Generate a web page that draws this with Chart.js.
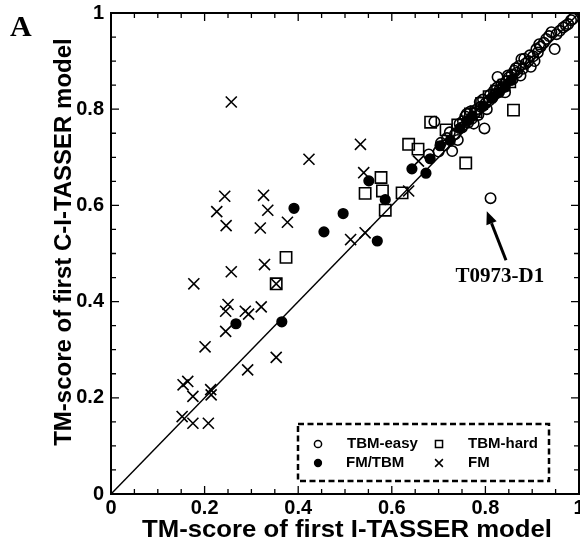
<!DOCTYPE html>
<html>
<head>
<meta charset="utf-8">
<title>TM-score comparison</title>
<script src="https://cdn.jsdelivr.net/npm/chart.js@4.4.0/dist/chart.umd.min.js"></script>
<style>
    html, body { margin: 0; padding: 0; background: #ffffff; }
    #wrap { width: 580px; height: 554px; }
</style>
</head>
<body>
<div id="wrap"><canvas id="scoreChart" width="580" height="554"></canvas></div>
<script>
// TM-scores: first I-TASSER model (x) vs first C-I-TASSER model (y)
const tbmEasyX = [0.811, 0.679, 0.691, 0.700, 0.712, 0.729, 0.735, 0.741, 0.750, 0.757,
                  0.763, 0.771, 0.778, 0.785, 0.790, 0.798, 0.800, 0.808, 0.815, 0.822,
                  0.826, 0.830, 0.838, 0.845, 0.850, 0.856, 0.862, 0.868, 0.872, 0.877,
                  0.880, 0.886, 0.892, 0.897, 0.902, 0.909, 0.912, 0.918, 0.925, 0.930,
                  0.936, 0.941, 0.948, 0.952, 0.959, 0.966, 0.972, 0.977, 0.983, 0.987,
                  0.705, 0.718, 0.724, 0.745, 0.752, 0.760, 0.768, 0.775, 0.782, 0.788,
                  0.795, 0.803, 0.810, 0.818, 0.825, 0.834, 0.842, 0.848, 0.858, 0.865,
                  0.875, 0.883, 0.895, 0.905, 0.915];
const tbmEasyY = [0.615, 0.706, 0.774, 0.712, 0.725, 0.713, 0.748, 0.736, 0.762, 0.785,
                  0.772, 0.780, 0.792, 0.788, 0.805, 0.760, 0.812, 0.818, 0.824, 0.832,
                  0.867, 0.840, 0.846, 0.858, 0.866, 0.872, 0.880, 0.876, 0.890, 0.904,
                  0.884, 0.895, 0.900, 0.888, 0.910, 0.925, 0.918, 0.930, 0.938, 0.946,
                  0.952, 0.960, 0.925, 0.956, 0.963, 0.970, 0.974, 0.977, 0.985, 0.988,
                  0.730, 0.740, 0.752, 0.770, 0.775, 0.790, 0.795, 0.770, 0.800, 0.815,
                  0.820, 0.800, 0.830, 0.838, 0.845, 0.852, 0.835, 0.870, 0.862, 0.885,
                  0.870, 0.905, 0.912, 0.900, 0.935];

const tbmHardX = [0.353, 0.374, 0.543, 0.577, 0.580, 0.586, 0.622, 0.636, 0.656, 0.683,
                  0.716, 0.741, 0.758, 0.780, 0.808, 0.852, 0.860, 0.768, 0.792, 0.824,
                  0.840];
const tbmHardY = [0.437, 0.492, 0.625, 0.658, 0.630, 0.590, 0.626, 0.727, 0.717, 0.773,
                  0.757, 0.767, 0.688, 0.795, 0.826, 0.857, 0.798, 0.790, 0.812, 0.838,
                  0.850];

const fmTbmX = [0.267, 0.365, 0.391, 0.455, 0.496, 0.551, 0.569, 0.586, 0.643, 0.673,
                0.682, 0.703, 0.745, 0.772, 0.795, 0.842, 0.760, 0.815, 0.830, 0.855,
                0.725];
const fmTbmY = [0.354, 0.358, 0.594, 0.545, 0.583, 0.651, 0.526, 0.612, 0.676, 0.667,
                0.697, 0.724, 0.760, 0.786, 0.806, 0.846, 0.775, 0.825, 0.835, 0.860,
                0.735];

const fmX = [0.257, 0.243, 0.226, 0.246, 0.326, 0.335, 0.319, 0.377, 0.423, 0.533,
             0.540, 0.177, 0.257, 0.328, 0.353, 0.250, 0.245, 0.287, 0.294, 0.321,
             0.245, 0.201, 0.353, 0.292, 0.154, 0.164, 0.175, 0.213, 0.214, 0.152,
             0.175, 0.208, 0.512, 0.543, 0.636, 0.657];
const fmY = [0.815, 0.619, 0.587, 0.558, 0.621, 0.590, 0.553, 0.565, 0.696, 0.727,
             0.668, 0.437, 0.462, 0.477, 0.437, 0.394, 0.380, 0.380, 0.374, 0.389,
             0.338, 0.306, 0.284, 0.258, 0.227, 0.234, 0.203, 0.217, 0.206, 0.161,
             0.147, 0.147, 0.529, 0.543, 0.630, 0.692];

const seriesNames = ['TBM-easy', 'TBM-hard', 'FM/TBM', 'FM'];
const axisTicks = [0, 0.2, 0.4, 0.6, 0.8, 1];
const diagonal = [0, 1];

// highlighted target and its arrow (data units)
const calloutText = 'T0973-D1';
const calloutAt = [0.831, 0.453];
const arrowFrom = [0.844, 0.486];
const arrowTo = [0.803, 0.588];

const SANS = "'Liberation Sans', Arial, sans-serif";
const SERIF = "'Liberation Serif', 'Times New Roman', serif";

function toPoints(xs, ys) {
    return xs.map((x, i) => ({ x: x, y: ys[i] }));
}

// marker look for each group, reused by the legend box
const markerStyles = [
    { pointStyle: 'circle', radius: 5.2, fill: 'rgba(0,0,0,0)', legendRadius: 3.6 },
    { pointStyle: 'rect', radius: 8, fill: 'rgba(0,0,0,0)', legendRadius: 5 },
    { pointStyle: 'circle', radius: 4.8, fill: '#000000', legendRadius: 3.4 },
    { pointStyle: 'crossRot', radius: 7.8, fill: 'rgba(0,0,0,0)', legendRadius: 5.5 }
];

const seriesData = [
    toPoints(tbmEasyX, tbmEasyY),
    toPoints(tbmHardX, tbmHardY),
    toPoints(fmTbmX, fmTbmY),
    toPoints(fmX, fmY)
];

const datasets = seriesNames.map((name, i) => ({
    label: name,
    data: seriesData[i],
    pointStyle: markerStyles[i].pointStyle,
    pointRadius: markerStyles[i].radius,
    pointBackgroundColor: markerStyles[i].fill,
    pointBorderColor: '#000000',
    pointBorderWidth: 1.6,
    showLine: false,
    clip: false
}));

// y = x reference line
datasets.push({
    label: 'diagonal',
    data: diagonal.map(v => ({ x: v, y: v })),
    showLine: true,
    borderColor: '#000000',
    borderWidth: 1.5,
    pointRadius: 0,
    order: 10
});

function drawMarker(ctx, style, x, y, radius) {
    ctx.save();
    ctx.strokeStyle = '#000000';
    ctx.fillStyle = style.fill;
    ctx.lineWidth = 1.5;
    if (Chart.helpers && Chart.helpers.drawPoint) {
        Chart.helpers.drawPoint(ctx, { pointStyle: style.pointStyle, radius: radius, rotation: 0, borderWidth: 1.5 }, x, y);
    }
    ctx.restore();
}

// text squeezed or widened to a given length
function fillTextWidth(ctx, text, x, y, width) {
    const natural = ctx.measureText(text).width;
    ctx.save();
    ctx.translate(x, y);
    ctx.scale(width / natural, 1);
    ctx.fillText(text, 0, 0);
    ctx.restore();
}

// frame, inward ticks, titles, legend box and callout
const decorations = {
    id: 'decorations',
    afterDraw(chart) {
        const ctx = chart.ctx;
        const ca = chart.chartArea;
        const xs = chart.scales.x;
        const ys = chart.scales.y;

        ctx.save();
        ctx.strokeStyle = '#000000';
        ctx.fillStyle = '#000000';

        // box round the plot
        ctx.lineWidth = 2;
        ctx.strokeRect(ca.left, ca.top, ca.right - ca.left, ca.bottom - ca.top);

        // minor ticks every 0.05, major every 0.2, all pointing inward
        ctx.lineWidth = 1.3;
        for (let i = 0; i <= 20; i++) {
            const v = i / 20;
            const len = i % 4 === 0 ? 8 : 5;
            const px = xs.getPixelForValue(v);
            const py = ys.getPixelForValue(v);
            ctx.beginPath();
            ctx.moveTo(px, ca.bottom); ctx.lineTo(px, ca.bottom - len);
            ctx.moveTo(px, ca.top); ctx.lineTo(px, ca.top + len);
            ctx.moveTo(ca.left, py); ctx.lineTo(ca.left + len, py);
            ctx.moveTo(ca.right, py); ctx.lineTo(ca.right - len, py);
            ctx.stroke();
        }

        // axis titles
        ctx.font = 'bold 24px ' + SANS;
        ctx.textAlign = 'center';
        ctx.textBaseline = 'middle';
        fillTextWidth(ctx, 'TM-score of first I-TASSER model', 347, ca.bottom + 36, 410);
        ctx.save();
        ctx.translate(64, 242);
        ctx.rotate(-Math.PI / 2);
        ctx.fillText('TM-score of first C-I-TASSER model', 0, 0);
        ctx.restore();

        // panel letter
        ctx.font = 'bold 30px ' + SERIF;
        ctx.textAlign = 'left';
        ctx.textBaseline = 'alphabetic';
        ctx.fillText('A', 10, 36);

        // dashed legend box
        const box = { x: ca.right - 281, y: ca.bottom - 70, w: 251, h: 57 };
        ctx.lineWidth = 2.5;
        ctx.setLineDash([6, 3.5]);
        ctx.strokeRect(box.x, box.y, box.w, box.h);
        ctx.setLineDash([]);
        ctx.font = 'bold 15px ' + SANS;
        ctx.textBaseline = 'middle';
        seriesNames.forEach((name, i) => {
            const col = i % 2;
            const row = Math.floor(i / 2);
            const mx = box.x + 20 + col * 121;
            const my = box.y + 20 + row * 19;
            drawMarker(ctx, markerStyles[i], mx, my, markerStyles[i].legendRadius);
            ctx.fillStyle = '#000000';
            ctx.textAlign = 'left';
            ctx.fillText(name, mx + 29 + (col === 0 && row === 1 ? -1 : 0), my);
        });

        // callout label with arrow
        ctx.font = 'bold 21px ' + SERIF;
        ctx.textAlign = 'center';
        ctx.textBaseline = 'middle';
        ctx.fillText(calloutText, xs.getPixelForValue(calloutAt[0]), ys.getPixelForValue(calloutAt[1]));

        const x0 = xs.getPixelForValue(arrowFrom[0]);
        const y0 = ys.getPixelForValue(arrowFrom[1]);
        const x1 = xs.getPixelForValue(arrowTo[0]);
        const y1 = ys.getPixelForValue(arrowTo[1]);
        const ang = Math.atan2(y1 - y0, x1 - x0);
        const headLen = 13;
        const headW = 5.5;
        const bx = x1 - Math.cos(ang) * headLen;
        const by = y1 - Math.sin(ang) * headLen;
        ctx.lineWidth = 3;
        ctx.beginPath();
        ctx.moveTo(x0, y0);
        ctx.lineTo(bx, by);
        ctx.stroke();
        ctx.beginPath();
        ctx.moveTo(x1, y1);
        ctx.lineTo(bx + Math.sin(ang) * headW, by - Math.cos(ang) * headW);
        ctx.lineTo(bx - Math.sin(ang) * headW, by + Math.cos(ang) * headW);
        ctx.closePath();
        ctx.fill();

        ctx.restore();
    }
};

const tickFont = { family: SANS, size: 20, weight: 'bold' };

const chartInstance = new Chart(document.getElementById('scoreChart').getContext('2d'), {
    type: 'scatter',
    data: { datasets: datasets },
    options: {
        responsive: false,
        animation: false,
        layout: { autoPadding: false, padding: { top: 13, right: 1, bottom: 0, left: 0 } },
        plugins: {
            legend: { display: false },
            tooltip: { enabled: false }
        },
        scales: {
            x: {
                type: 'linear',
                min: 0,
                max: 1,
                grid: { display: false, drawTicks: false },
                border: { display: false },
                afterBuildTicks: s => { s.ticks = axisTicks.map(v => ({ value: v })); },
                afterFit: s => { s.height = 60; s.paddingLeft = 0; s.paddingRight = 0; },
                ticks: {
                    font: tickFont,
                    color: '#000000',
                    padding: 2,
                    maxRotation: 0,
                    autoSkip: false,
                    callback: v => String(v)
                }
            },
            y: {
                type: 'linear',
                min: 0,
                max: 1,
                grid: { display: false, drawTicks: false },
                border: { display: false },
                afterBuildTicks: s => { s.ticks = axisTicks.map(v => ({ value: v })); },
                afterFit: s => { s.width = 111; s.paddingTop = 0; s.paddingBottom = 0; },
                ticks: {
                    font: tickFont,
                    color: '#000000',
                    padding: 7,
                    autoSkip: false,
                    callback: v => String(v)
                }
            }
        }
    },
    plugins: [decorations]
});
</script>
</body>
</html>
